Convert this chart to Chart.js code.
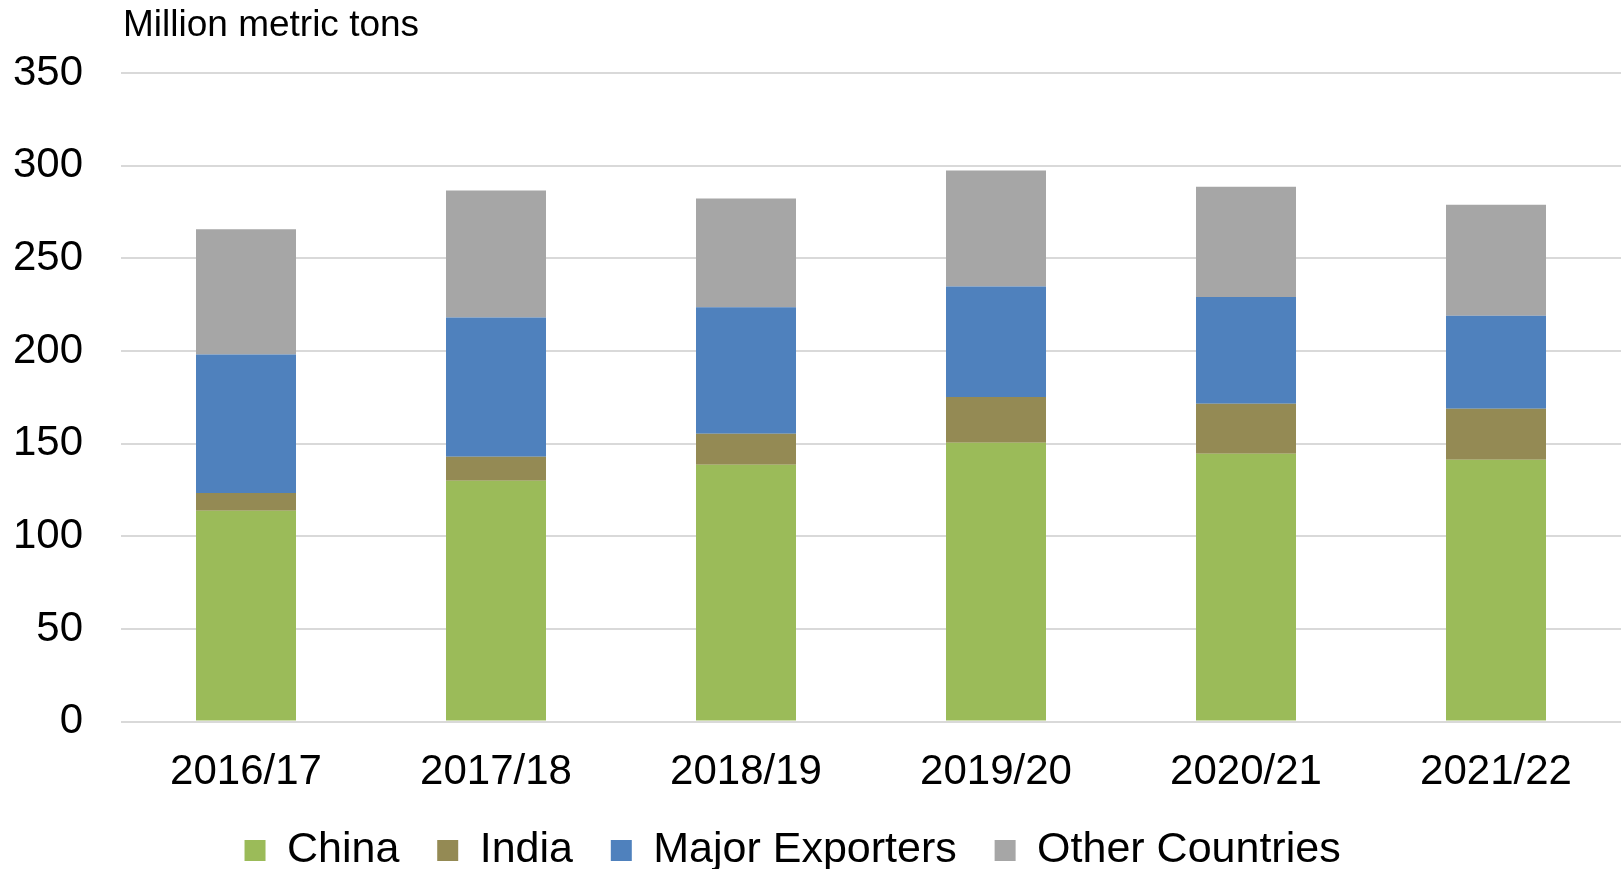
<!DOCTYPE html>
<html>
<head>
<meta charset="utf-8">
<script src="https://cdn.jsdelivr.net/npm/chart.js@4/dist/chart.umd.min.js"></script>
<style>
  html, body { margin: 0; padding: 0; background: #fff; }
  canvas { display: block; }
</style>
</head>
<body>
<canvas id="chart" width="1624" height="869"></canvas>
<script>
// values (million metric tons)
const years = ['2016/17', '2017/18', '2018/19', '2019/20', '2020/21', '2021/22'];
const china = [113.8, 130.0, 138.6, 150.5, 144.6, 141.3];
const india = [9.5, 12.9, 16.7, 24.6, 26.9, 27.5];
const majorExporters = [74.8, 75.2, 68.3, 59.7, 57.6, 50.2];
const otherCountries = [67.6, 68.5, 58.7, 62.6, 59.5, 59.9];
const yTicks = [0, 50, 100, 150, 200, 250, 300, 350];

const FONT = "'Liberation Sans', Arial, sans-serif";

// unit label above the plot, left-aligned to the gridlines
const unitLabel = {
    id: 'unitLabel',
    afterDraw(chart) {
        const { ctx, chartArea } = chart;
        ctx.save();
        ctx.font = `37px ${FONT}`;
        ctx.fillStyle = '#000';
        ctx.textBaseline = 'middle';
        ctx.textAlign = 'left';
        ctx.fillText('Million metric tons', chartArea.left + 2, 26);
        ctx.restore();
    }
};

new Chart(document.getElementById('chart'), {
    type: 'bar',
    data: {
        labels: years,
        datasets: [
            { label: 'China', data: china, backgroundColor: '#9BBB59' },
            { label: 'India', data: india, backgroundColor: '#948A54' },
            { label: 'Major Exporters', data: majorExporters, backgroundColor: '#4F81BD' },
            { label: 'Other Countries', data: otherCountries, backgroundColor: '#A6A6A6' },
        ],
    },
    options: {
        responsive: false,
        animation: false,
        barPercentage: 0.4,
        categoryPercentage: 1.0,
        layout: { padding: { top: 73, right: 3, left: 0, bottom: -13 } },
        plugins: {
            legend: {
                position: 'bottom',
                labels: {
                    color: '#000',
                    font: { family: FONT, size: 43 },
                    boxWidth: 21,
                    boxHeight: 21,
                    padding: 2,
                    // wider spacing between entries, like the original legend
                    generateLabels(chart) {
                        const items = Chart.defaults.plugins.legend.labels.generateLabels(chart);
                        items.forEach(it => { it.text = it.text + '   '; });
                        return items;
                    },
                },
            },
            tooltip: { enabled: false },
        },
        scales: {
            x: {
                stacked: true,
                grid: { display: false },
                border: { display: false },
                afterFit(scale) { scale.height += 11; },
                ticks: { color: '#000', font: { family: FONT, size: 42 }, padding: 18 },
            },
            y: {
                stacked: true,
                min: 0,
                max: 350,
                afterFit(scale) { scale.width = 121; },
                afterBuildTicks(scale) { scale.ticks = yTicks.map(v => ({ value: v })); },
                grid: { color: '#D9D9D9', lineWidth: 2, drawTicks: false },
                border: { display: false },
                ticks: { color: '#000', font: { family: FONT, size: 42 }, padding: 38 },
            },
        },
    },
    plugins: [unitLabel],
});
</script>
</body>
</html>
